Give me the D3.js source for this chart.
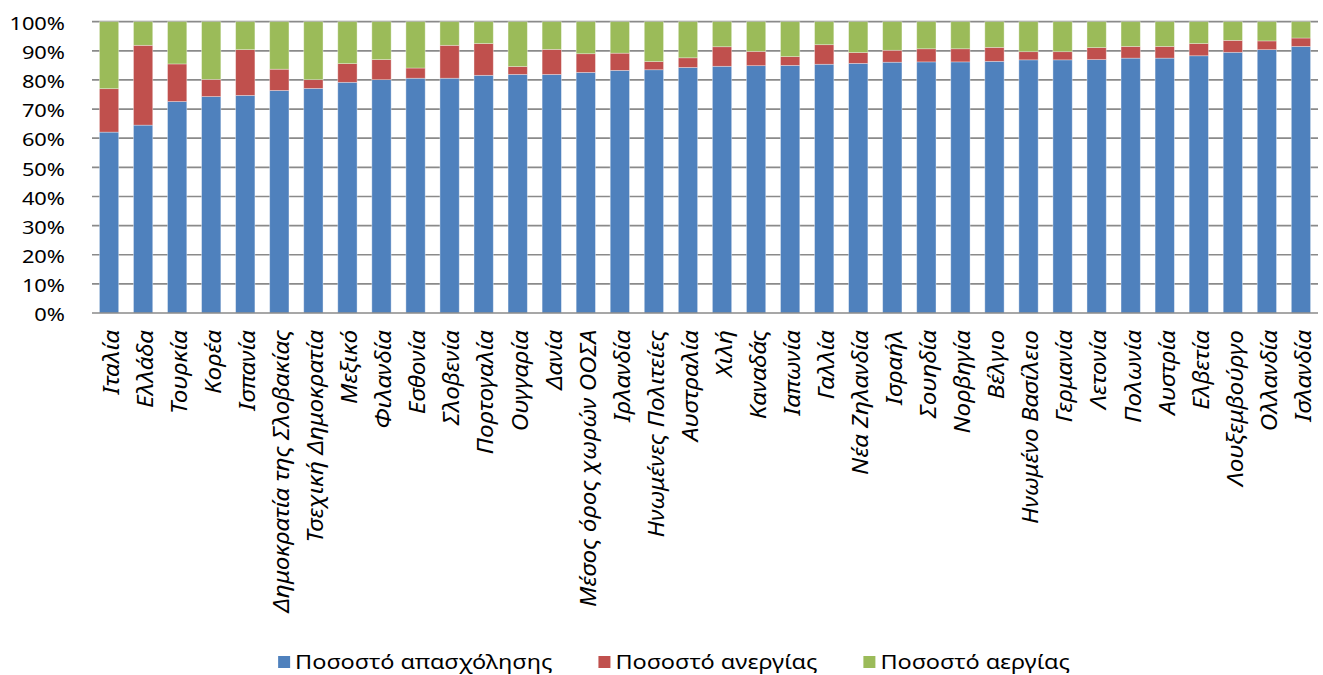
<!DOCTYPE html>
<html><head><meta charset="utf-8">
<script src="https://cdn.jsdelivr.net/npm/d3@7"></script>
<style>html,body{margin:0;padding:0;background:#fff;overflow:hidden}</style>
</head><body>
<svg id="chart"></svg>
<script>
const categories = ["Ιταλία","Ελλάδα","Τουρκία","Κορέα","Ισπανία","Δημοκρατία της Σλοβακίας","Τσεχική Δημοκρατία","Μεξικό","Φιλανδία","Εσθονία","Σλοβενία","Πορτογαλία","Ουγγαρία","Δανία","Μέσος όρος χωρών ΟΟΣΑ","Ιρλανδία","Ηνωμένες Πολιτείες","Αυστραλία","Χιλή","Καναδάς","Ιαπωνία","Γαλλία","Νέα Ζηλανδία","Ισραήλ","Σουηδία","Νορβηγία","Βέλγιο","Ηνωμένο Βασίλειο","Γερμανία","Λετονία","Πολωνία","Αυστρία","Ελβετία","Λουξεμβούργο","Ολλανδία","Ισλανδία"];
const employment   = [62.1,64.5,72.6,74.3,74.7,76.4,77.1,79.2,80.1,80.6,80.6,81.6,81.9,81.9,82.6,83.3,83.5,84.3,84.7,84.9,85.0,85.4,85.7,86.1,86.2,86.2,86.4,86.9,86.9,87.0,87.5,87.5,88.3,89.5,90.4,91.5];
const unemployment = [14.9,27.4,12.9,5.9,15.7,7.3,3.0,6.4,6.9,3.5,11.3,10.9,2.7,8.6,6.4,5.9,2.8,3.3,6.7,4.9,3.0,6.7,3.7,4.1,4.5,4.5,4.8,2.8,2.8,4.1,4.0,4.0,4.2,4.1,3.0,2.9];
const inactivity   = [23.0,8.1,14.5,19.8,9.6,16.3,19.9,14.4,13.0,15.9,8.1,7.5,15.4,9.5,11.0,10.8,13.7,12.4,8.6,10.2,12.0,7.9,10.6,9.8,9.3,9.3,8.8,10.3,10.3,8.9,8.5,8.5,7.5,6.4,6.6,5.6];
const seriesNames = ["Ποσοστό απασχόλησης","Ποσοστό ανεργίας","Ποσοστό αεργίας"];
const seriesKeys = ["employment","unemployment","inactivity"];
const colors = ["#4F81BD","#C0504D","#9BBB59"];
const yTicks = [0,10,20,30,40,50,60,70,80,90,100];

const W = 1323, H = 675, SX = 1.2;
const VW = W / SX;
const FONT = "'Noto Sans','Open Sans',sans-serif";
const LS = 1.33; // label stretch along reading direction

const svg = d3.select("#chart")
  .attr("width", W).attr("height", H)
  .attr("viewBox", `0 0 ${VW} ${H}`)
  .attr("preserveAspectRatio", "none");

const plot = {left: 92 / SX, right: 1318 / SX, top: 21.7, bottom: 313};

const x = d3.scaleBand().domain(categories)
  .range([plot.left, plot.right]).paddingInner(0.433).paddingOuter(0.217);
const y = d3.scaleLinear().domain([0, 100]).range([plot.bottom, plot.top]);

const table = categories.map((c, i) => ({
  cat: c, employment: employment[i], unemployment: unemployment[i], inactivity: inactivity[i]
}));
const stacked = d3.stack().keys(seriesKeys)(table);

// gridlines
svg.append("g").selectAll("line").data(yTicks.filter(d => d > 0)).join("line")
  .attr("x1", plot.left).attr("x2", plot.right)
  .attr("y1", d => y(d)).attr("y2", d => y(d))
  .attr("stroke", "#8a8a8a").attr("stroke-width", 1.7);

// bars
svg.append("g").selectAll("g").data(stacked).join("g")
  .attr("fill", (d, i) => colors[i])
  .selectAll("rect").data(d => d).join("rect")
  .attr("x", d => x(d.data.cat))
  .attr("width", x.bandwidth())
  .attr("y", d => y(d[1]))
  .attr("height", d => y(d[0]) - y(d[1]))
  .attr("stroke", "#ffffff").attr("stroke-opacity", 0.45).attr("stroke-width", 0.7);

// bottom axis line
svg.append("line")
  .attr("x1", plot.left).attr("x2", plot.right)
  .attr("y1", y(0)).attr("y2", y(0))
  .attr("stroke", "#8a8a8a").attr("stroke-width", 1.7);

// y axis labels
const yAxis = svg.append("g").attr("transform", `translate(${65 / SX},0)`)
  .call(d3.axisLeft(y).tickValues(yTicks).tickSize(0).tickPadding(0).tickFormat(d => d + "%"));
yAxis.select(".domain").remove();
yAxis.selectAll("text")
  .attr("font-family", FONT).attr("font-size", 18.2).attr("fill", "#000").attr("dy", "0.42em");

// x axis labels
const xAxis = svg.append("g").attr("transform", `translate(0,${plot.bottom})`)
  .call(d3.axisBottom(x).tickSize(0).tickPadding(0));
xAxis.select(".domain").remove();
xAxis.selectAll("text")
  .attr("font-family", FONT).attr("font-style", "italic").attr("font-size", 18.2).attr("fill", "#000")
  .attr("transform", `rotate(-90) scale(${LS},1)`)
  .attr("text-anchor", "end")
  .attr("x", -17 / LS).attr("y", 0).attr("dy", "0.45em");

// legend
const legend = svg.append("g");
let lx = 0;
seriesNames.forEach((name, i) => {
  const g = legend.append("g").attr("transform", `translate(${lx},0)`);
  g.append("rect").attr("x", 0).attr("y", 656).attr("width", 12 / SX).attr("height", 12)
    .attr("fill", colors[i]);
  const t = g.append("text").attr("x", 17 / SX).attr("y", 669)
    .attr("font-family", FONT).attr("font-size", 19.6).attr("fill", "#000").text(name);
  lx += 17 / SX + t.node().getComputedTextLength() + 46 / SX;
});
const totalW = lx - 46 / SX;
legend.attr("transform", `translate(${(674 / SX) - totalW / 2},0)`);
</script>
</body></html>
